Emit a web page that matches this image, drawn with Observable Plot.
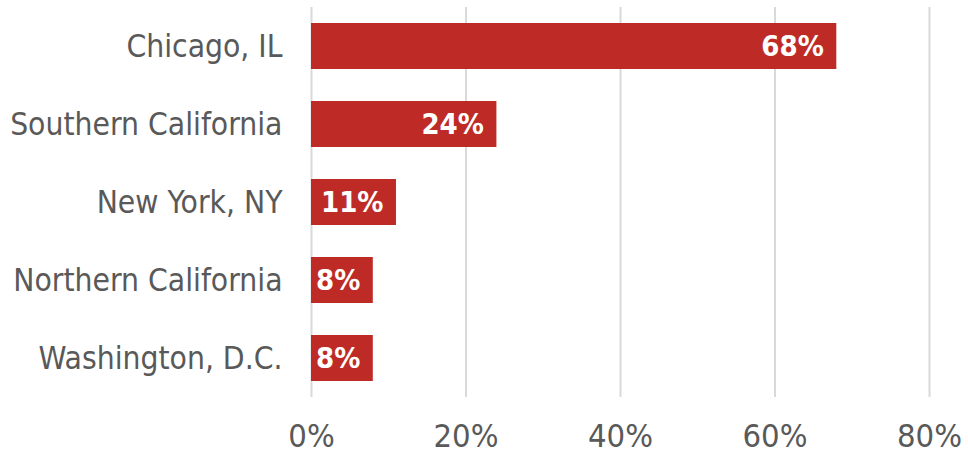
<!DOCTYPE html>
<html>
<head>
<meta charset="utf-8">
<script src="https://cdn.jsdelivr.net/npm/d3@7"></script>
<script src="https://cdn.jsdelivr.net/npm/@observablehq/plot@0.6"></script>
<style>
  html, body { margin: 0; padding: 0; background: #fff; }
  #chart svg { display: block; }
</style>
</head>
<body>
<div id="chart"></div>
<script>
const categories = ["Chicago, IL", "Southern California", "New York, NY", "Northern California", "Washington, D.C."];
const values = [68, 24, 11, 8, 8];
const xTicks = [0, 20, 40, 60, 80];

const data = categories.map((c, i) => ({category: c, value: values[i]}));

const barColor = "#BE2B26";
const textColor = "#595959";

const chart = Plot.plot({
  width: 968,
  height: 456,
  marginLeft: 311,
  marginRight: 39,
  marginTop: 7,
  marginBottom: 59,
  style: {fontFamily: "'DejaVu Sans Condensed', 'DejaVu Sans', sans-serif", background: "#fff"},
  x: {domain: [0, 80]},
  y: {domain: categories, paddingInner: 0.41, paddingOuter: 0.205},
  marks: [
    Plot.ruleX(xTicks, {stroke: "#D9D9D9", strokeWidth: 2}),
    Plot.barX(data, {x: "value", y: "category", fill: barColor}),
    Plot.text(data, {
      x: "value", y: "category",
      text: d => d.value + "%",
      textAnchor: "end", dx: -13,
      fill: "white", fontWeight: "bold", fontSize: 29,
      fontFamily: "'DejaVu Sans Condensed', 'DejaVu Sans', sans-serif"
    }),
    Plot.axisX({ticks: xTicks, tickFormat: d => d + "%", tickSize: 0, tickPadding: 26, fontSize: 32.5, color: textColor, label: null}),
    Plot.axisY({tickSize: 0, tickPadding: 29, fontSize: 31.5, color: textColor, label: null})
  ]
});
document.getElementById("chart").appendChild(chart);
</script>
</body>
</html>
